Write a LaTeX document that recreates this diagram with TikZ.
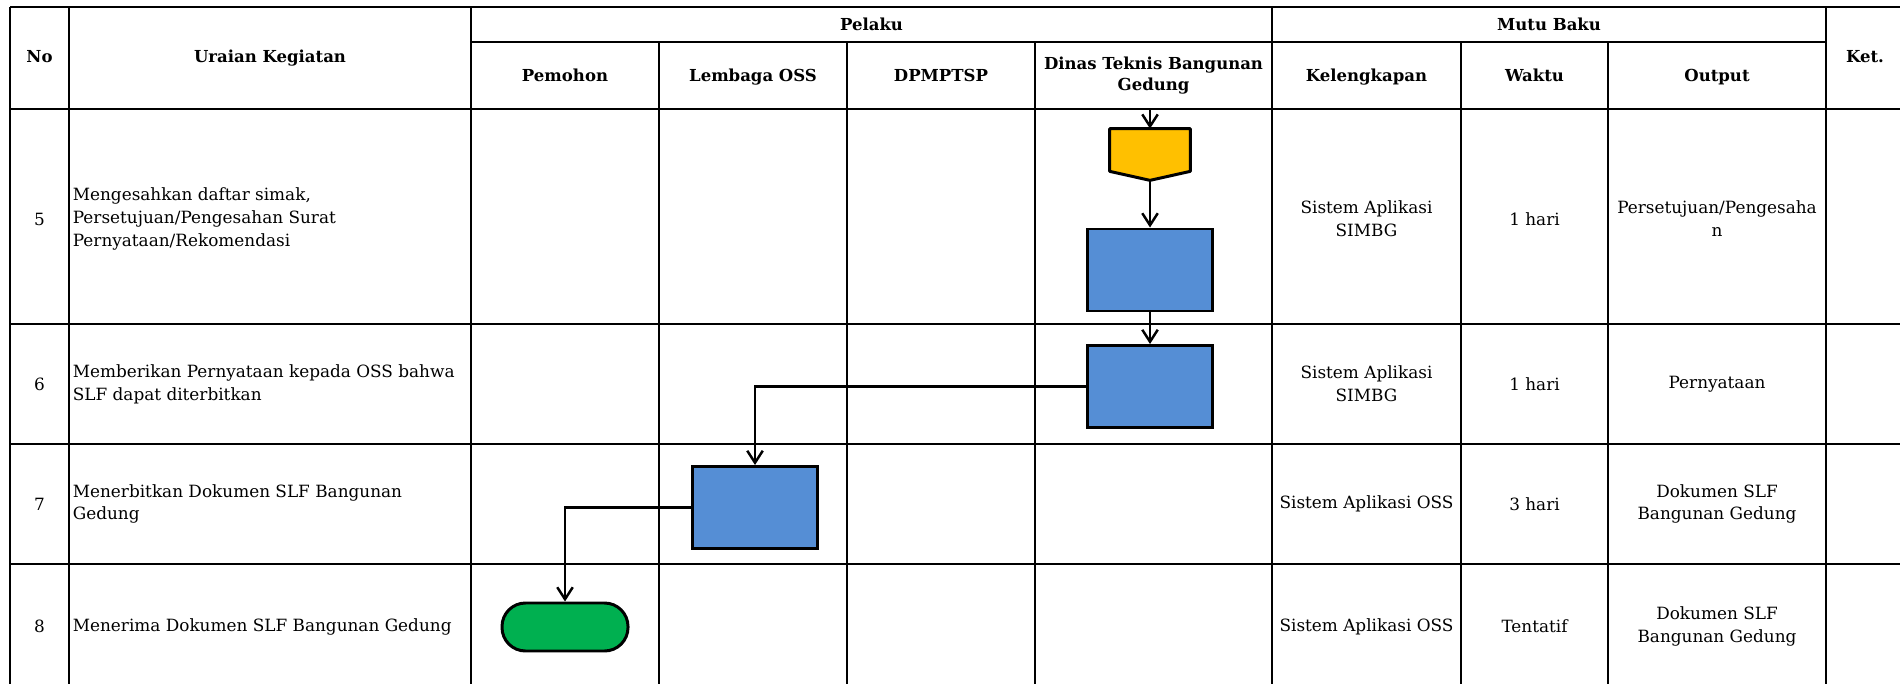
\documentclass[tikz,border=0pt]{standalone}
\usepackage{fontspec}
\setmainfont{DejaVu Serif}
\usetikzlibrary{positioning,arrows.meta}
\definecolor{procblue}{RGB}{85,142,213}
\definecolor{offyellow}{RGB}{255,192,0}
\definecolor{termgreen}{RGB}{0,176,80}
\tikzset{
    tableline/.style={
        black,
        line width=1.1pt
    },
    head/.style={
        font=\bfseries\fontsize{9.4}{12.4}\selectfont,
        align=center
    },
    cell/.style={
        font=\fontsize{9.6}{13}\selectfont,
        align=center
    },
    kegiatan/.style={
        font=\fontsize{9.6}{13}\selectfont,
        align=left,
        anchor=west,
        inner sep=0pt
    },
    proses/.style={
        rectangle,
        draw=black,
        line width=1.7pt,
        fill=procblue,
        minimum width=2.5cm,
        minimum height=1.64cm
    },
    offpage/.style={
        append after command={
            \pgfextra{
                \draw[black, line width=1.7pt, fill=offyellow, line join=round]
                    (\tikzlastnode.north west) -- (\tikzlastnode.north east)
                    -- ([yshift=0.18cm]\tikzlastnode.south east)
                    -- (\tikzlastnode.south)
                    -- ([yshift=0.18cm]\tikzlastnode.south west) -- cycle;
            }
        },
        minimum width=1.6cm,
        minimum height=1.02cm,
        inner sep=0pt,
        draw=none
    },
    terminator/.style={
        rectangle,
        rounded corners=0.47cm,
        draw=black,
        line width=1.7pt,
        fill=termgreen,
        minimum width=2.52cm,
        minimum height=0.96cm
    },
    alur/.style={
        -{Straight Barb[length=2.4mm,width=3.1mm,line width=1.4pt]},
        line width=1.3pt
    }
}

\begin{document}
\begin{tikzpicture}
    \useasboundingbox (0,0) rectangle (38,13.68);

    % garis tabel
    \foreach \y in {13.54,11.5,7.2,4.8,2.4}
        \draw[tableline] (0.2,\y) -- (38,\y);
    \draw[tableline] (9.42,12.84) -- (36.52,12.84);
    \foreach \x in {0.2,1.38,9.42,25.44,36.52}
        \draw[tableline] (\x,13.54) -- (\x,0);
    \foreach \x in {13.18,16.94,20.7,29.22,32.16}
        \draw[tableline] (\x,12.84) -- (\x,0);

    % judul kolom
    \node[head, anchor=base] (hno) at (0.79,12.42) {No};
    \node[head, anchor=base] (huraian) at (5.4,12.42) {Uraian Kegiatan};
    \node[head, anchor=base] (hpelaku) at (17.43,13.06) {Pelaku};
    \node[head, anchor=base] (hmutu) at (30.98,13.06) {Mutu Baku};
    \node[head, anchor=base] (hket) at (37.3,12.42) {Ket.};
    \node[head, anchor=base] (hpemohon) at (11.3,12.04) {Pemohon};
    \node[head, anchor=base] (hoss) at (15.06,12.04) {Lembaga OSS};
    \node[head, anchor=base] (hdpm) at (18.82,12.04) {DPMPTSP};
    \node[head] (hdinas) at (23.07,12.17) {Dinas Teknis Bangunan\\Gedung};
    \node[head, anchor=base] (hlengkap) at (27.33,12.04) {Kelengkapan};
    \node[head, anchor=base] (hwaktu) at (30.69,12.04) {Waktu};
    \node[head, anchor=base] (houtput) at (34.34,12.04) {Output};

    % baris 5
    \node[cell] (no5) at (0.79,9.3) {5};
    \node[kegiatan] (uraian5) at (1.45,9.3) {Mengesahkan daftar simak,\\Persetujuan/Pengesahan Surat\\Pernyataan/Rekomendasi};
    \node[cell] (lengkap5) at (27.33,9.3) {Sistem Aplikasi\\SIMBG};
    \node[cell] (waktu5) at (30.69,9.3) {1 hari};
    \node[cell] (output5) at (34.34,9.3) {Persetujuan/Pengesaha\\n};

    % baris 6
    \node[cell] (no6) at (0.79,6.0) {6};
    \node[kegiatan] (uraian6) at (1.45,6.0) {Memberikan Pernyataan kepada OSS bahwa\\SLF dapat diterbitkan};
    \node[cell] (lengkap6) at (27.33,6.0) {Sistem Aplikasi\\SIMBG};
    \node[cell] (waktu6) at (30.69,6.0) {1 hari};
    \node[cell] (output6) at (34.34,6.0) {Pernyataan};

    % baris 7
    \node[cell] (no7) at (0.79,3.6) {7};
    \node[kegiatan] (uraian7) at (1.45,3.6) {Menerbitkan Dokumen SLF Bangunan\\Gedung};
    \node[cell] (lengkap7) at (27.33,3.6) {Sistem Aplikasi OSS};
    \node[cell] (waktu7) at (30.69,3.6) {3 hari};
    \node[cell] (output7) at (34.34,3.6) {Dokumen SLF\\Bangunan Gedung};

    % baris 8
    \node[cell] (no8) at (0.79,1.15) {8};
    \node[kegiatan] (uraian8) at (1.45,1.15) {Menerima Dokumen SLF Bangunan Gedung};
    \node[cell] (lengkap8) at (27.33,1.15) {Sistem Aplikasi OSS};
    \node[cell] (waktu8) at (30.69,1.15) {Tentatif};
    \node[cell] (output8) at (34.34,1.15) {Dokumen SLF\\Bangunan Gedung};

    % simbol alur
    \coordinate (masuk) at (23,11.5);
    \node[offpage] (sambung) at (23,10.59) {};
    \node[proses] (sahkan) at (23,8.28) {};
    \node[proses] (nyatakan) at (23,5.95) {};
    \node[proses] (terbit) at (15.1,3.53) {};
    \node[terminator] (terima) at (11.3,1.14) {};

    \draw[alur] (masuk) -- (sambung.north);
    \draw[alur] (sambung.south) -- (sahkan.north);
    \draw[alur] (sahkan.south) -- (nyatakan.north);
    \draw[alur] (nyatakan.west) -| (terbit.north);
    \draw[alur] (terbit.west) -| (terima.north);
\end{tikzpicture}
\end{document}
